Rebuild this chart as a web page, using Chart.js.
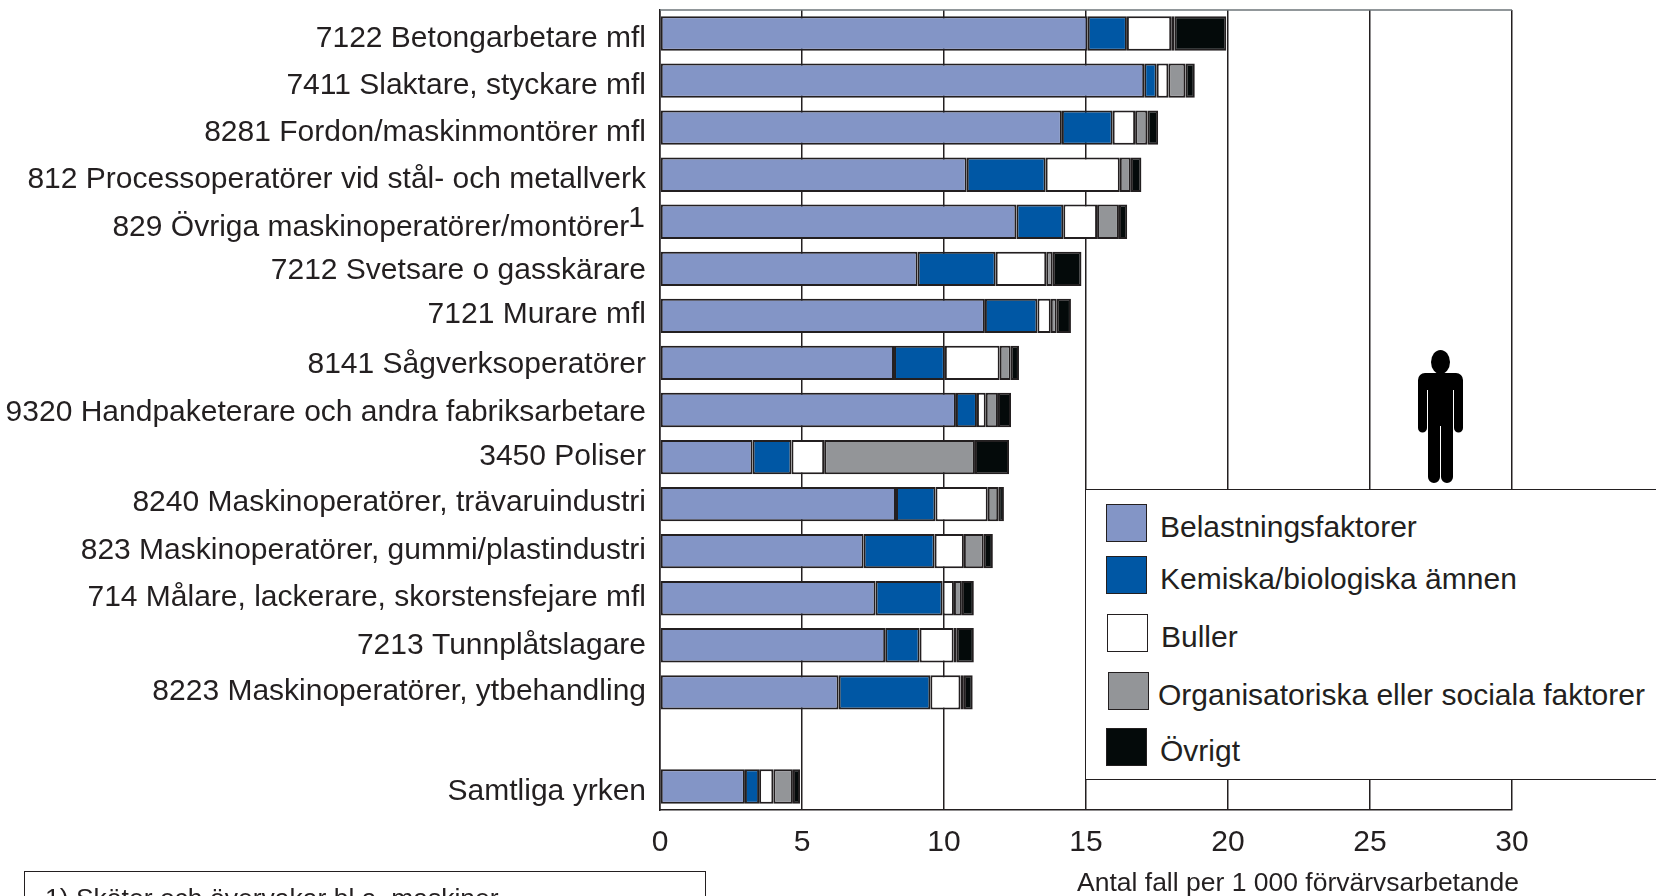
<!DOCTYPE html>
<html lang="sv">
<head>
<meta charset="utf-8">
<title>Antal fall per 1 000 förvärvsarbetande</title>
<script src="https://cdn.jsdelivr.net/npm/chart.js@4"></script>
<style>
  html, body { margin: 0; padding: 0; background: #fff; }
  body { width: 1656px; height: 896px; overflow: hidden; position: relative;
         font-family: "Liberation Sans", Arial, sans-serif; color: #231f20; }
  canvas { position: absolute; left: 0; top: 0; }
  .abs { position: absolute; white-space: nowrap; line-height: 1; }
  #legendBox { position: absolute; left: 1085px; top: 489px; width: 600px; height: 291px;
               background: #fff; border: 1.5px solid #231f20; box-sizing: border-box; }
  .swatch { position: absolute; width: 41px; height: 38px; box-sizing: border-box;
            border: 1.5px solid #231f20; }
  #footnote { position: absolute; left: 24px; top: 871px; width: 682px; height: 80px;
              border: 1.5px solid #231f20; box-sizing: border-box; }
</style>
</head>
<body>
<canvas id="chart" width="1656" height="896"></canvas>

<svg class="abs" style="left:1418px;top:350px" width="45" height="134" viewBox="0 0 45 134">
  <ellipse cx="22.5" cy="12" rx="9.5" ry="12" fill="#000"/>
  <path fill="#000" d="M7 23H38a7 7 0 0 1 7 7V78a4.5 4.5 0 0 1-9 0V40H35V127a6 6 0 0 1-12 0V76H22V127a6 6 0 0 1-12 0V40H9V78a4.5 4.5 0 0 1-9 0V30a7 7 0 0 1 7-7Z"/>
</svg>

<div id="legendBox"></div>
<div id="legend"></div>

<div class="abs" id="axisTitle" style="left:1077px;top:869px;font-size:26.5px"></div>

<div id="footnote"></div>
<div class="abs" style="left:45px;top:885px;font-size:26.5px">1) Sköter och övervakar bl.a. maskiner</div>

<script>
// === data ===

const CATEGORIES = [
  "7122 Betongarbetare mfl",
  "7411 Slaktare, styckare mfl",
  "8281 Fordon/maskinmontörer mfl",
  "812 Processoperatörer vid stål- och metallverk",
  "829 Övriga maskinoperatörer/montörer\u2007",
  "7212 Svetsare o gasskärare",
  "7121 Murare mfl",
  "8141 Sågverksoperatörer",
  "9320 Handpaketerare och andra fabriksarbetare",
  "3450 Poliser",
  "8240 Maskinoperatörer, trävaruindustri",
  "823 Maskinoperatörer, gummi/plastindustri",
  "714 Målare, lackerare, skorstensfejare mfl",
  "7213 Tunnplåtslagare",
  "8223 Maskinoperatörer, ytbehandling",
  "",
  "Samtliga yrken",
];

const BELASTNING = [15.06, 17.05, 14.15, 10.8, 12.55, 9.07, 11.44, 8.24, 10.42, 3.26, 8.31, 7.17, 7.59, 7.93, 6.29, null, 2.99];
const KEMISKA = [1.38, 0.44, 1.79, 2.78, 1.65, 2.75, 1.85, 1.79, 0.74, 1.37, 1.39, 2.5, 2.36, 1.21, 3.23, null, 0.5];
const BULLER = [1.56, 0.41, 0.79, 2.61, 1.19, 1.78, 0.47, 1.93, 0.31, 1.15, 1.84, 1.03, 0.4, 1.2, 1.06, null, 0.5];
const ORGANISATORISKA = [0.11, 0.6, 0.43, 0.39, 0.77, 0.23, 0.21, 0.39, 0.43, 5.31, 0.37, 0.7, 0.28, 0.11, 0.12, null, 0.69];
const OVRIGT = [1.83, 0.33, 0.38, 0.37, 0.29, 1.01, 0.5, 0.29, 0.46, 1.2, 0.2, 0.32, 0.42, 0.6, 0.31, null, 0.25];

const SERIES_LABELS = [
  "Belastningsfaktorer",
  "Kemiska/biologiska ämnen",
  "Buller",
  "Organisatoriska eller sociala faktorer",
  "Övrigt",
];
const X_TITLE = "Antal fall per 1 000 förvärvsarbetande";

// === styling ===

const INK = "#231f20";
const FONT = "'Liberation Sans', Arial, sans-serif";
const COLORS = ["#8395c6", "#0057a4", "#ffffff", "#939598", "#040a0a"];

// the labels sit a bit off the bar centres in the original, px per row
const LABEL_NUDGE = [5, 5, 5, 5, 6, 2, -1, 2, 3, 0, -1, 0, -1, 0, -1, 0, 5];

// legend rows are not evenly spaced in the original
const LEGEND_ROWS = [
  { sx: 1106, sy: 504, tx: 1160, ty: 512 },
  { sx: 1106, sy: 556, tx: 1160, ty: 564 },
  { sx: 1107, sy: 614, tx: 1161, ty: 622 },
  { sx: 1108, sy: 672, tx: 1158, ty: 680 },
  { sx: 1106, sy: 728, tx: 1160, ty: 736 },
];

// frame line on top, label nudges and the footnote mark on the 829 label
const extras = {
  id: "extras",
  afterLayout(chart) {
    chart.scales.y.getLabelItems().forEach((item, i) => {
      item.options.translation[1] += LABEL_NUDGE[i] || 0;
    });
  },
  beforeDatasetsDraw(chart) {
    const { ctx, chartArea } = chart;
    ctx.save();
    ctx.strokeStyle = "#6d7478";
    ctx.lineWidth = 1.5;
    ctx.beginPath();
    ctx.moveTo(chartArea.left, chartArea.top);
    ctx.lineTo(chartArea.right, chartArea.top);
    ctx.stroke();
    ctx.restore();
  },
  afterDraw(chart) {
    const { ctx, scales } = chart;
    ctx.save();
    ctx.fillStyle = INK;
    ctx.font = "30px " + FONT;
    ctx.textAlign = "right";
    ctx.textBaseline = "alphabetic";
    ctx.fillText("1", 645, scales.y.getPixelForValue(4) + 5);
    ctx.restore();
  },
};

const datasets = [BELASTNING, KEMISKA, BULLER, ORGANISATORISKA, OVRIGT].map((data, i) => ({
  label: SERIES_LABELS[i],
  data,
  backgroundColor: COLORS[i],
  borderColor: INK,
  borderWidth: 2,
  borderSkipped: false,
  barPercentage: 0.73,
  categoryPercentage: 1,
}));

new Chart(document.getElementById("chart"), {
  type: "bar",
  data: { labels: CATEGORIES, datasets },
  plugins: [extras],
  options: {
    indexAxis: "y",
    responsive: false,
    animation: false,
    layout: { padding: { top: 10, right: 144, left: 0, bottom: 0 } },
    plugins: {
      legend: { display: false },
      tooltip: { enabled: false },
    },
    scales: {
      x: {
        stacked: true,
        min: 0,
        max: 30,
        afterFit(scale) { scale.height = 86; },
        ticks: {
          stepSize: 5,
          padding: 15,
          color: INK,
          maxRotation: 0,
          font: { family: FONT, size: 30 },
        },
        grid: { color: INK, lineWidth: 1.5, drawTicks: false },
        border: { color: INK, width: 1.5 },
      },
      y: {
        stacked: true,
        afterFit(scale) {
          scale.width = 660;
          scale.paddingTop = 0;
          scale.paddingBottom = 0;
        },
        ticks: {
          autoSkip: false,
          padding: 14,
          color: INK,
          font: { family: FONT, size: 30 },
        },
        grid: { display: false, drawTicks: false },
        border: { color: INK, width: 1.5 },
      },
    },
  },
});

// legend + axis title as html, on top of the grid lines
const legendEl = document.getElementById("legend");
SERIES_LABELS.forEach((label, i) => {
  const row = LEGEND_ROWS[i];
  const sw = document.createElement("div");
  sw.className = "swatch";
  sw.style.cssText = `left:${row.sx}px;top:${row.sy}px;background:${COLORS[i]}`;
  const txt = document.createElement("div");
  txt.className = "abs";
  txt.style.cssText = `left:${row.tx}px;top:${row.ty}px;font-size:30px`;
  txt.textContent = label;
  legendEl.append(sw, txt);
});
document.getElementById("axisTitle").textContent = X_TITLE;
</script>
</body>
</html>
